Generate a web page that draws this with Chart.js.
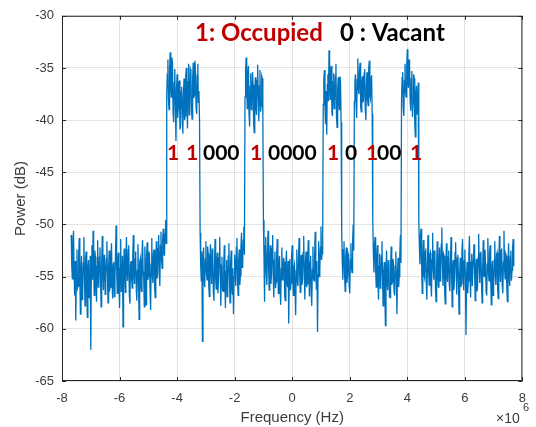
<!DOCTYPE html>
<html>
<head>
<meta charset="utf-8">
<script src="https://cdn.jsdelivr.net/npm/chart.js@4.4.1/dist/chart.umd.min.js"></script>
<style>
  html, body { margin: 0; padding: 0; background: #fff; }
  #wrap { width: 536px; height: 427px; }
</style>
</head>
<body>
<div id="wrap"><canvas id="spectrum" width="536" height="427"></canvas></div>
<script>
// power spectrum, one value per 20 kHz bin; each block starts at its own frequency (MHz)
const BIN_STEP_MHZ = 0.02;
const blockStarts = [-7.68, -4.36, -3.20, -1.64, -1.00, 1.08, 1.72, 2.16, 2.80, 3.80, 4.40];

const floorA = [
  -51.0, -54.1, -55.2, -52.3, -50.6, -54.7, -56.8, -53.5, -59.2, -54.0,
  -52.4, -56.1, -55.9, -52.8, -51.3, -55.0, -58.6, -54.4, -53.0, -57.2,
  -56.4, -53.7, -51.2, -54.9, -57.8, -53.2, -52.6, -55.5, -58.9, -54.2,
  -53.4, -57.0, -56.2, -53.0, -62.0, -54.6, -52.0, -55.3, -50.6, -53.9,
  -56.8, -52.5, -53.1, -55.8, -57.4, -54.0, -51.5, -56.0, -55.6, -53.1,
  -52.2, -55.4, -57.9, -53.6, -51.1, -54.5, -56.3, -52.9, -53.2, -56.7,
  -55.1, -53.3, -51.6, -55.0, -57.5, -54.1, -52.5, -56.2, -56.0, -53.4,
  -51.8, -55.6, -57.1, -53.8, -53.6, -56.9, -55.3, -52.7, -50.1, -54.3,
  -56.6, -53.5, -52.7, -55.7, -58.0, -54.2, -51.4, -56.4, -55.8, -53.0,
  -59.8, -54.8, -52.3, -55.1, -56.5, -53.7, -51.2, -54.6, -55.4, -52.4,
  -52.0, -56.8, -57.6, -53.9, -53.5, -55.2, -56.1, -52.8, -51.0, -54.7,
  -55.7, -53.3, -52.6, -56.0, -57.3, -54.4, -51.9, -55.5, -59.1, -53.6,
  -53.3, -55.9, -56.4, -52.9, -51.5, -54.5, -55.2, -57.9, -52.1, -54.2,
  -57.7, -53.1, -51.7, -55.3, -55.0, -52.6, -52.9, -56.5, -58.2, -53.8,
  -51.3, -54.9, -55.6, -52.7, -52.4, -56.1, -57.0, -53.4, -51.6, -55.2,
  -54.8, -52.3, -51.0, -54.6, -55.9, -52.0, -50.7, -53.5, -54.2, -51.4,
  -50.4, -52.6, -53.0, -50.9, -49.6, -51.8
];
const band1 = [
  -37.5, -35.6, -34.2, -38.1, -39.0, -35.0, -33.5, -36.9, -37.8, -34.0,
  -34.6, -39.3, -40.2, -36.4, -35.1, -38.6, -42.0, -37.0, -35.6, -39.8,
  -38.9, -36.5, -36.2, -40.9, -40.5, -37.3, -36.8, -39.1, -41.3, -37.6,
  -36.0, -40.0, -39.6, -35.8, -35.0, -38.4, -40.8, -36.3, -34.6, -39.5,
  -38.7, -35.1, -35.3, -38.9, -39.9, -36.1, -34.5, -37.9, -37.6, -34.3,
  -35.4, -38.8, -39.4, -35.7, -34.6, -38.3, -37.2, -40.1
];
const floorB = [
  -50.8, -53.9, -55.4, -52.6, -61.2, -53.8, -52.2, -55.1, -56.0, -53.3,
  -51.6, -54.7, -55.3, -52.1, -52.8, -55.9, -56.9, -53.6, -51.9, -54.4,
  -55.7, -52.3, -53.0, -56.5, -57.3, -54.0, -51.4, -55.2, -56.2, -53.5,
  -52.7, -56.6, -55.0, -53.2, -51.2, -54.8, -57.8, -53.9, -53.1, -56.3,
  -56.4, -54.1, -52.0, -55.6, -58.0, -54.5, -53.4, -56.9, -55.6, -53.0,
  -51.8, -55.4, -57.5, -53.7, -52.5, -56.1, -56.7, -54.2, -58.6, -55.0,
  -52.9, -54.6, -55.9, -52.2, -51.3, -55.3, -56.8, -53.4, -52.4, -55.8,
  -54.9, -52.0, -50.8, -54.1, -53.6, -51.5, -50.2, -52.9
];
const band2 = [
  -37.8, -35.3, -34.0, -37.2, -38.9, -35.6, -34.8, -39.4, -40.6, -36.8,
  -35.5, -39.0, -38.2, -35.4, -36.6, -40.3, -41.2, -37.1, -35.9, -38.8,
  -39.5, -36.2, -34.7, -38.0, -40.1, -36.7, -35.2, -39.2, -38.6, -35.8,
  -36.0, -39.7
];
const floorC = [
  -49.6, -53.2, -57.4, -52.0, -51.2, -54.6, -55.8, -52.7, -50.6, -54.0,
  -56.3, -53.1, -52.0, -55.7, -54.9, -52.3, -51.0, -54.8, -57.0, -53.4,
  -52.6, -56.1, -55.5, -53.0, -51.4, -54.5, -56.6, -53.6, -53.0, -56.4,
  -57.7, -54.2, -52.2, -55.3, -55.1, -53.2, -53.6, -56.9, -57.3, -54.0,
  -52.5, -55.6, -56.0, -53.5, -59.5, -54.7, -53.3, -56.3, -55.6, -53.0,
  -52.0, -55.0, -56.8, -54.1, -53.8, -56.2, -58.7, -54.4, -52.4, -55.5,
  -55.9, -53.1, -51.3, -54.9, -56.5, -53.3, -52.9, -55.8, -55.3, -52.7,
  -51.1, -54.6, -57.2, -53.8, -52.6, -56.0, -55.7, -53.2, -51.5, -54.5,
  -56.9, -53.6, -53.0, -56.6, -57.8, -54.3, -52.1, -55.2, -55.4, -52.8,
  -50.7, -54.0, -56.2, -53.5, -60.3, -54.8, -51.6, -55.0, -54.3, -52.2,
  -50.2, -53.4, -52.8, -50.6
];
const band3 = [
  -38.5, -36.0, -35.2, -38.7, -40.4, -37.2, -41.4, -36.6, -35.6, -38.2,
  -33.3, -36.8, -38.0, -35.1, -34.8, -39.3, -39.6, -36.3, -35.5, -38.9,
  -38.3, -35.7, -34.6, -39.8, -40.7, -37.0, -35.9, -38.4, -39.0, -35.8,
  -36.4, -40.2
];
const floorD = [
  -50.4, -53.6, -55.3, -52.4, -51.6, -54.7, -56.4, -53.0, -52.2, -55.6,
  -55.0, -52.8, -53.1, -55.9, -56.6, -53.4, -51.8, -54.2, -54.6, -51.7,
  -50.0, -52.5
];
const band4 = [
  -38.2, -36.3, -35.6, -38.5, -39.8, -36.1, -34.1, -37.0, -37.5, -35.2,
  -34.5, -38.7, -39.2, -36.5, -35.8, -38.3, -38.0, -35.5, -35.1, -39.0,
  -40.0, -36.6, -35.4, -38.1, -38.6, -35.0, -34.3, -37.6, -37.9, -35.9,
  -35.7, -39.4
];
const floorE = [
  -49.3, -52.7, -54.6, -51.9, -51.2, -54.3, -56.0, -53.2, -52.0, -55.4,
  -57.2, -54.0, -52.8, -56.1, -55.6, -53.0, -51.6, -55.1, -57.8, -54.5,
  -53.6, -56.6, -59.7, -54.9, -52.5, -55.7, -56.3, -53.5, -53.4, -56.9,
  -57.0, -54.1, -52.1, -55.8, -55.5, -53.3, -53.8, -56.4, -56.8, -54.0,
  -52.6, -55.2, -58.6, -54.6, -53.2, -56.0, -55.0, -52.9, -51.0, -53.7
];
const band5 = [
  -38.0, -35.9, -35.4, -38.8, -39.6, -36.2, -34.6, -37.4, -37.8, -34.9,
  -33.2, -36.5, -36.9, -34.2, -34.8, -38.2, -39.1, -36.0, -35.3, -39.7,
  -38.4, -35.6, -36.0, -40.3, -41.6, -37.5, -36.7, -39.4, -39.0, -36.4
];
const floorF = [
  -49.5, -52.1, -53.8, -51.0, -50.4, -54.2, -56.6, -53.3, -51.5, -54.8,
  -55.1, -52.6, -52.3, -55.6, -57.2, -53.9, -51.0, -54.4, -55.8, -52.9,
  -52.7, -55.7, -56.9, -53.4, -50.8, -54.1, -55.3, -52.5, -53.1, -56.2,
  -57.4, -54.0, -51.6, -55.0, -56.0, -53.6, -52.2, -55.4, -54.7, -51.9,
  -50.3, -53.8, -55.9, -52.8, -53.0, -56.5, -57.6, -54.3, -51.8, -54.9,
  -55.5, -53.1, -52.5, -55.8, -56.4, -53.7, -51.2, -54.6, -57.9, -54.0,
  -53.4, -56.3, -55.2, -52.7, -51.7, -54.5, -56.7, -53.2, -52.9, -55.6,
  -58.6, -54.8, -53.2, -56.0, -55.7, -52.6, -51.4, -54.3, -56.3, -53.5,
  -52.4, -55.3, -60.6, -54.9, -53.6, -56.6, -55.4, -52.9, -51.1, -54.7,
  -57.0, -53.6, -52.8, -55.9, -55.9, -53.0, -51.9, -54.4, -57.3, -54.1,
  -53.3, -56.4, -56.1, -53.2, -50.9, -54.0, -55.6, -52.8, -52.6, -55.7,
  -57.5, -54.2, -51.5, -54.8, -55.0, -52.4, -53.7, -56.5, -56.8, -53.8,
  -51.3, -54.6, -55.4, -52.7, -52.0, -55.5, -57.7, -54.3, -53.5, -56.8,
  -56.2, -53.4, -51.6, -54.9, -55.8, -52.9, -52.7, -56.1, -57.1, -54.0,
  -51.1, -54.5, -55.5, -52.5, -52.3, -55.9, -56.6, -53.6, -50.6, -54.2,
  -55.2, -52.8, -53.0, -56.3, -57.4, -54.1, -51.8, -55.0, -55.9, -53.1,
  -52.5, -55.4, -54.4, -52.2, -51.4, -54.0
];
const blocks = [floorA, band1, floorB, band2, floorC, band3, floorD, band4, floorE, band5, floorF];

const xTicks = [-8, -6, -4, -2, 0, 2, 4, 6, 8];
const yTicks = [-65, -60, -55, -50, -45, -40, -35, -30];

// channel map written over the plot: 1 = occupied, 0 = vacant
const channelBits = ['1', '1', '000', '1', '0000', '1', '0', '1', '00', '1'];
const channelBitX = [167, 186, 203, 250, 268, 327, 345, 366, 377, 410];

const RED = '#c00000';
const AXIS = '#262626';
const TICK_TEXT = '#3c3c3c';

const points = [];
blocks.forEach((vals, b) => {
  vals.forEach((v, i) => {
    points.push({ x: +(blockStarts[b] + i * BIN_STEP_MHZ).toFixed(2), y: v });
  });
});

const matlabFrame = {
  id: 'matlab_frame',
  afterDraw: (chart) => {
    const { ctx, chartArea: a, scales } = chart;
    ctx.save();
    // box with inward ticks on all four sides
    ctx.strokeStyle = AXIS;
    ctx.lineWidth = 1;
    ctx.beginPath();
    ctx.rect(a.left + 0.5, a.top + 0.5, a.right - a.left - 1, a.bottom - a.top - 1);
    xTicks.forEach(t => {
      const px = Math.round(scales.x.getPixelForValue(t)) + 0.5;
      ctx.moveTo(px, a.bottom); ctx.lineTo(px, a.bottom - 4);
      ctx.moveTo(px, a.top); ctx.lineTo(px, a.top + 4);
    });
    yTicks.forEach(t => {
      const py = Math.round(scales.y.getPixelForValue(t)) + 0.5;
      ctx.moveTo(a.left, py); ctx.lineTo(a.left + 4, py);
      ctx.moveTo(a.right, py); ctx.lineTo(a.right - 4, py);
    });
    ctx.stroke();

    // axis titles and exponent
    ctx.fillStyle = TICK_TEXT;
    ctx.font = '15px "Liberation Sans", Arial, sans-serif';
    ctx.textAlign = 'center';
    ctx.textBaseline = 'middle';
    ctx.fillText('Frequency (Hz)', (a.left + a.right) / 2, 418);
    ctx.save();
    ctx.translate(21, (a.top + a.bottom) / 2);
    ctx.rotate(-Math.PI / 2);
    ctx.fillText('Power (dB)', 0, 0);
    ctx.restore();
    ctx.textAlign = 'left';
    ctx.textBaseline = 'alphabetic';
    ctx.font = '14px "Liberation Sans", Arial, sans-serif';
    ctx.fillText('\u00d710', 496, 423);
    ctx.font = '11px "Liberation Sans", Arial, sans-serif';
    ctx.fillText('6', 523, 411);

    // legend line and channel bits
    ctx.font = 'bold 24px Lato, "Open Sans", sans-serif';
    ctx.fillStyle = RED;
    ctx.fillText('1: Occupied', 195, 41);
    ctx.fillStyle = '#000';
    ctx.fillText('0 : Vacant', 340, 41);
    ctx.font = 'bold 21px Lato, "Open Sans", sans-serif';
    channelBits.forEach((s, i) => {
      ctx.fillStyle = s.indexOf('1') >= 0 ? RED : '#000';
      ctx.fillText(s, channelBitX[i], 160);
    });
    ctx.restore();
  }
};

new Chart(document.getElementById('spectrum'), {
  type: 'line',
  data: {
    datasets: [{
      data: points,
      borderColor: '#0072bd',
      borderWidth: 1.3,
      pointRadius: 0,
      tension: 0,
      fill: false,
    }]
  },
  options: {
    responsive: false,
    animation: false,
    parsing: false,
    layout: { padding: { left: 0, top: 13, right: 8, bottom: 0 } },
    plugins: {
      legend: { display: false },
      tooltip: { enabled: false },
    },
    scales: {
      x: {
        type: 'linear',
        min: -8,
        max: 8,
        afterFit: (scale) => { scale.height = 46; },
        afterBuildTicks: (scale) => { scale.ticks = xTicks.map(v => ({ value: v })); },
        border: { display: false },
        grid: { color: 'rgba(38,38,38,0.13)', drawTicks: false },
        ticks: {
          padding: 10,
          color: TICK_TEXT,
          font: { family: '"Liberation Sans", Arial, sans-serif', size: 13 },
        }
      },
      y: {
        min: -65,
        max: -30,
        afterFit: (scale) => { scale.width = 62; },
        afterBuildTicks: (scale) => { scale.ticks = yTicks.map(v => ({ value: v })); },
        border: { display: false },
        grid: { color: 'rgba(38,38,38,0.13)', drawTicks: false },
        ticks: {
          padding: 8,
          color: TICK_TEXT,
          font: { family: '"Liberation Sans", Arial, sans-serif', size: 13 },
        }
      }
    }
  },
  plugins: [matlabFrame]
});
</script>
</body>
</html>
